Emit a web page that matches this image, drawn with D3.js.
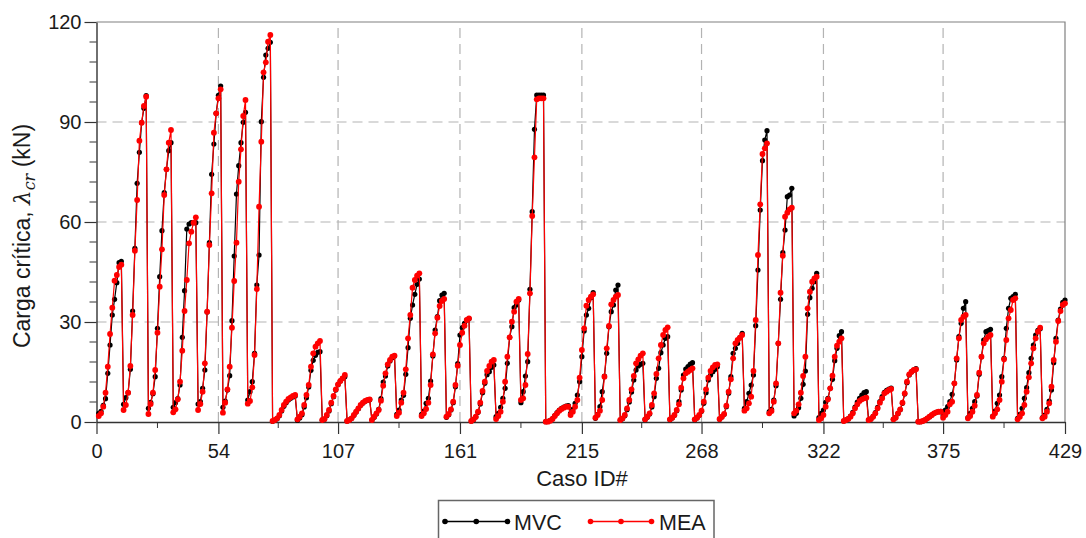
<!DOCTYPE html>
<html>
<head>
<meta charset="utf-8">
<script src="https://cdn.jsdelivr.net/npm/d3@7"></script>
<style>
  html, body { margin: 0; padding: 0; background: #fff; }
  svg { display: block; font-family: "Liberation Sans", Arial, sans-serif; }
</style>
</head>
<body>
<svg id="chart" width="1086" height="538"></svg>
<script>
// Critical load per case (kN), 39 blocks of 11 cases each
const mvc = [
  2.6, 3.2, 5.0, 7.0, 14.6, 23.1, 32.1, 36.8, 41.8, 47.8, 48.2,
  5.3, 7.3, 8.8, 15.8, 33.3, 52.1, 71.6, 80.9, 89.8, 94.1, 97.9,
  4.1, 5.9, 8.5, 13.6, 28.1, 43.6, 57.4, 68.8, 75.8, 81.4, 83.8,
  4.4, 5.8, 7.0, 11.1, 25.4, 39.4, 57.9, 59.4, 59.8, 59.8, 59.8,
  5.4, 6.1, 10.1, 15.6, 33.0, 53.8, 74.3, 83.4, 92.6, 98.0, 100.8,
  4.4, 6.3, 9.6, 13.9, 30.4, 49.8, 68.4, 76.9, 83.8, 89.9, 92.9,
  6.6, 9.1, 12.1, 20.6, 41.1, 50.1, 90.1, 103.4, 110.1, 112.1, 113.9,
  0.2, 0.5, 1.0, 1.9, 3.3, 4.7, 5.8, 6.6, 7.1, 7.5, 7.8,
  0.5, 1.2, 2.2, 4.5, 7.3, 10.5, 15.5, 18.5, 20.0, 20.9, 21.1,
  0.5, 0.8, 1.9, 3.3, 5.5, 7.6, 9.6, 11.2, 12.3, 13.1, 13.6,
  0.3, 0.6, 1.1, 2.0, 3.0, 4.0, 5.0, 5.7, 6.2, 6.5, 6.7,
  0.6, 1.4, 2.4, 3.8, 7.0, 12.0, 13.8, 16.8, 18.3, 19.3, 19.8,
  2.3, 3.6, 6.6, 8.0, 14.3, 22.3, 31.1, 35.1, 38.3, 41.3, 42.9,
  2.3, 3.3, 5.6, 7.1, 12.3, 19.8, 27.6, 31.6, 36.4, 38.1, 38.6,
  1.4, 2.2, 3.6, 5.8, 10.6, 17.5, 26.1, 28.3, 29.6, 30.6, 31.0,
  0.3, 0.7, 1.5, 2.9, 5.4, 8.8, 11.6, 14.2, 15.1, 16.4, 17.1,
  1.6, 2.6, 4.4, 7.1, 10.1, 17.6, 25.4, 28.6, 34.3, 35.1, 36.6,
  5.8, 9.1, 13.8, 18.1, 39.8, 63.1, 87.8, 98.1, 98.1, 98.1, 98.1,
  0.1, 0.2, 0.5, 1.0, 1.9, 2.8, 3.6, 4.1, 4.5, 4.8, 4.9,
  2.6, 3.8, 5.6, 8.1, 12.1, 19.6, 27.3, 32.1, 34.1, 37.3, 38.8,
  1.1, 2.3, 4.6, 9.1, 13.8, 20.6, 28.6, 33.1, 35.1, 39.6, 41.1,
  0.5, 1.0, 1.9, 3.7, 6.0, 9.0, 12.6, 15.6, 16.8, 17.3, 17.6,
  0.7, 1.4, 2.4, 4.5, 7.6, 13.1, 16.1, 20.8, 23.1, 25.1, 25.6,
  0.7, 1.2, 2.0, 3.4, 6.1, 9.6, 14.1, 15.9, 16.6, 17.4, 17.8,
  0.7, 1.2, 2.0, 3.2, 5.6, 8.8, 12.6, 14.1, 15.1, 15.8, 16.6,
  0.8, 1.5, 2.3, 4.6, 8.6, 13.6, 20.6, 22.1, 23.6, 25.3, 26.6,
  4.1, 6.1, 8.6, 11.1, 14.1, 28.9, 45.6, 63.6, 78.4, 84.6, 87.4,
  3.1, 3.8, 6.6, 10.9, 23.6, 36.8, 50.8, 57.6, 67.6, 68.1, 70.1,
  1.8, 2.6, 4.3, 7.1, 11.3, 15.3, 32.3, 37.3, 40.1, 42.1, 44.6,
  1.3, 2.6, 3.6, 5.9, 7.1, 10.1, 12.8, 18.4, 22.1, 25.9, 27.1,
  0.3, 0.6, 1.0, 1.8, 2.9, 4.5, 6.0, 7.1, 8.1, 8.8, 9.1,
  0.6, 0.9, 1.7, 2.8, 4.4, 6.1, 7.6, 8.9, 9.5, 9.9, 10.2,
  0.8, 1.3, 2.5, 3.7, 5.6, 8.4, 11.8, 14.1, 15.0, 15.6, 16.0,
  0.1, 0.1, 0.3, 0.6, 1.1, 1.6, 2.1, 2.6, 2.9, 3.1, 3.2,
  2.1, 3.6, 4.6, 6.1, 8.3, 11.6, 18.6, 25.6, 29.6, 34.1, 36.1,
  1.3, 2.6, 4.1, 6.1, 7.8, 14.3, 19.6, 24.6, 27.1, 27.4, 27.8,
  1.8, 3.3, 5.6, 8.1, 13.6, 19.1, 28.1, 34.1, 37.1, 37.6, 38.3,
  1.1, 2.3, 4.1, 7.1, 10.3, 14.8, 19.1, 23.1, 26.1, 27.5, 28.0,
  1.3, 2.1, 3.8, 6.3, 9.6, 17.8, 25.1, 30.6, 33.9, 35.9, 36.6
];

const mea = [
  1.8, 2.6, 4.6, 8.8, 16.6, 26.4, 34.3, 42.4, 44.1, 46.5, 47.2,
  3.6, 5.1, 8.8, 16.8, 32.1, 51.4, 66.6, 84.4, 89.8, 94.8, 97.6,
  2.4, 5.4, 8.8, 15.6, 26.8, 40.6, 51.8, 68.1, 75.8, 83.8, 87.6,
  2.9, 3.8, 6.8, 12.1, 21.4, 33.3, 42.6, 53.6, 57.1, 59.8, 61.4,
  3.6, 5.4, 9.1, 17.6, 33.1, 53.1, 68.6, 86.8, 92.6, 97.1, 99.8,
  2.8, 5.8, 9.8, 16.6, 28.3, 42.3, 53.8, 72.1, 81.8, 91.8, 96.6,
  5.5, 6.3, 10.4, 20.1, 39.9, 64.6, 84.1, 104.9, 107.9, 114.1, 116.1,
  0.3, 0.6, 1.1, 2.1, 3.6, 5.1, 6.1, 6.9, 7.4, 7.8, 8.1,
  0.8, 1.6, 2.6, 5.1, 8.1, 11.1, 16.6, 20.6, 22.6, 23.6, 24.3,
  0.6, 0.9, 2.1, 3.6, 5.8, 7.8, 9.8, 11.3, 12.3, 13.1, 14.1,
  0.3, 0.6, 1.1, 2.1, 3.1, 4.1, 5.1, 5.8, 6.3, 6.6, 6.8,
  0.6, 1.6, 2.6, 3.6, 6.4, 10.9, 14.6, 17.3, 18.6, 19.6, 19.9,
  1.8, 2.8, 5.8, 8.8, 15.8, 25.1, 32.1, 40.3, 42.6, 43.9, 44.6,
  1.8, 2.6, 3.9, 5.8, 11.1, 20.3, 26.6, 31.3, 34.8, 36.3, 36.9,
  1.6, 2.4, 3.8, 6.1, 11.1, 16.9, 23.1, 26.8, 28.9, 30.6, 31.1,
  0.3, 0.8, 1.6, 3.1, 5.8, 9.3, 12.1, 15.3, 16.8, 18.1, 18.6,
  0.9, 1.8, 3.1, 6.1, 12.1, 19.6, 25.4, 30.1, 33.1, 36.1, 36.9,
  6.6, 7.1, 11.1, 20.4, 38.6, 61.8, 79.4, 96.8, 97.1, 97.1, 97.1,
  0.1, 0.1, 0.4, 0.9, 1.8, 2.6, 3.4, 3.9, 4.3, 4.6, 4.6,
  2.1, 3.1, 4.6, 6.6, 13.3, 21.6, 28.1, 34.9, 36.6, 37.6, 38.3,
  1.3, 2.1, 3.4, 6.6, 13.6, 22.1, 28.8, 35.3, 36.6, 37.6, 38.1,
  0.6, 1.1, 2.1, 4.1, 6.6, 9.8, 13.8, 17.6, 18.8, 19.9, 20.6,
  0.8, 1.6, 2.6, 5.1, 8.6, 14.4, 19.1, 23.1, 26.1, 27.6, 28.4,
  0.8, 1.3, 2.1, 3.6, 5.3, 10.3, 13.1, 14.6, 15.1, 15.6, 16.1,
  0.8, 1.3, 2.1, 3.4, 6.1, 9.8, 13.3, 15.3, 16.4, 17.1, 17.3,
  0.9, 1.6, 2.4, 4.9, 9.1, 12.8, 19.1, 23.6, 24.6, 25.3, 26.1,
  3.4, 4.1, 5.6, 7.6, 15.3, 30.6, 50.1, 65.3, 80.4, 82.1, 83.6,
  2.6, 3.3, 6.1, 11.6, 23.6, 38.8, 49.9, 61.6, 62.8, 63.8, 64.3,
  2.6, 3.4, 5.3, 8.8, 13.8, 19.6, 34.1, 39.1, 42.1, 43.1, 43.6,
  0.6, 1.1, 2.1, 4.6, 6.8, 10.1, 13.9, 19.6, 22.9, 24.1, 25.1,
  0.3, 0.6, 0.9, 1.6, 2.6, 4.1, 5.3, 6.3, 6.8, 7.1, 7.3,
  0.6, 0.9, 1.6, 2.6, 4.1, 5.8, 7.1, 8.6, 9.1, 9.6, 9.9,
  0.8, 1.3, 2.6, 3.8, 5.8, 8.6, 12.1, 14.3, 15.1, 15.6, 15.8,
  0.1, 0.1, 0.3, 0.6, 1.1, 1.6, 2.1, 2.6, 2.9, 3.1, 3.1,
  1.3, 2.1, 3.1, 5.3, 6.1, 11.6, 19.1, 25.1, 30.6, 31.6, 32.1,
  1.1, 1.8, 3.1, 4.9, 8.1, 14.8, 19.6, 23.6, 24.8, 25.6, 26.1,
  1.6, 2.6, 3.8, 6.6, 12.1, 18.8, 24.6, 31.1, 33.6, 36.6, 37.1,
  0.8, 1.6, 2.6, 5.1, 9.1, 13.4, 17.6, 22.1, 25.1, 27.1, 28.3,
  1.1, 1.6, 3.1, 5.6, 10.6, 18.6, 24.1, 30.3, 33.3, 35.1, 35.6
];

// Case IDs run 1..429
const caseIds = d3.range(1, mvc.length + 1);

const xTicks = [0, 54, 107, 161, 215, 268, 322, 375, 429];
const yTicks = [0, 30, 60, 90, 120];

const svg = d3.select("#chart");
const L = 96.5, R = 1065, T = 22, B = 422;

const x = d3.scaleLinear().domain([0, 429]).range([L, R]);
const y = d3.scaleLinear().domain([0, 120]).range([B, T]);

// dashed grid
const grid = svg.append("g").attr("stroke", "#b3b3b3").attr("stroke-width", 1.2)
  .attr("stroke-dasharray", "10,6").attr("fill", "none");
xTicks.slice(1, -1).forEach(t => {
  grid.append("line").attr("x1", x(t)).attr("x2", x(t)).attr("y1", B).attr("y2", T);
});
yTicks.slice(1, -1).forEach(t => {
  grid.append("line").attr("x1", L).attr("x2", R).attr("y1", y(t)).attr("y2", y(t));
});

// frame: top and right
svg.append("path")
  .attr("d", `M${L},${T}H${R}V${B}`)
  .attr("fill", "none").attr("stroke", "#808080").attr("stroke-width", 1.2);

// minor ticks
const xMinor = xTicks.slice(0, -1).map((t, i) => (t + xTicks[i + 1]) / 2);
const yMinor = d3.range(0, 121, 6).filter(v => v % 30 !== 0);

const xAxis = svg.append("g").attr("transform", `translate(0,${B})`)
  .call(d3.axisBottom(x).tickValues(xTicks).tickSize(12).tickSizeOuter(0).tickPadding(10));
xAxis.append("g").selectAll("line").data(xMinor).join("line")
  .attr("x1", d => x(d)).attr("x2", d => x(d)).attr("y1", 0).attr("y2", 6)
  .attr("stroke", "#333");

const yAxis = svg.append("g").attr("transform", `translate(${L},0)`)
  .call(d3.axisLeft(y).tickValues(yTicks).tickSize(12).tickSizeOuter(0).tickPadding(3));
yAxis.append("g").selectAll("line").data(yMinor).join("line")
  .attr("x1", 0).attr("x2", -7).attr("y1", d => y(d)).attr("y2", d => y(d))
  .attr("stroke", "#333");

[xAxis, yAxis].forEach(g => {
  g.selectAll(".domain").attr("stroke", "#333").attr("stroke-width", 1.4);
  g.selectAll(".tick line").attr("stroke", "#333").attr("stroke-width", 1.2);
  g.selectAll("text").attr("font-size", 20).attr("fill", "#1a1a1a")
    .attr("font-family", "'Liberation Sans', Arial, sans-serif");
});

// series
const series = [
  { name: "MVC", values: mvc, color: "#000000", r: 2.6 },
  { name: "MEA", values: mea, color: "#ff0000", r: 2.9 }
];

const line = d3.line().x((d, i) => x(caseIds[i])).y(d => y(d));

series.forEach(s => {
  const g = svg.append("g");
  g.append("path").attr("d", line(s.values)).attr("fill", "none")
    .attr("stroke", s.color).attr("stroke-width", 1.2);
  g.selectAll("circle").data(s.values).join("circle")
    .attr("cx", (d, i) => x(caseIds[i])).attr("cy", d => y(d))
    .attr("r", s.r).attr("fill", s.color);
});

// axis titles
svg.append("text").attr("x", 582).attr("y", 486)
  .attr("text-anchor", "middle").attr("font-size", 22).attr("fill", "#1a1a1a")
  .text("Caso ID#");

const yt = svg.append("text")
  .attr("transform", "translate(30,236) rotate(-90)")
  .attr("text-anchor", "middle").attr("font-size", 23).attr("fill", "#1a1a1a");
yt.append("tspan").text("Carga crítica, ");
yt.append("tspan").attr("font-style", "italic").attr("font-family", "'DejaVu Serif', serif").text("λ");
yt.append("tspan").attr("font-style", "italic").attr("font-family", "'DejaVu Serif', serif")
  .attr("font-size", 16).attr("dy", 5).text("cr");
yt.append("tspan").attr("dy", -5).text(" (kN)");

// legend
const lg = svg.append("g");
lg.append("rect").attr("x", 438.5).attr("y", 500.5).attr("width", 275.5).attr("height", 60)
  .attr("fill", "#fff").attr("stroke", "#666").attr("stroke-width", 1.5);
const items = [
  { s: series[0], x0: 445, x1: 507.5, tx: 514 },
  { s: series[1], x0: 590.5, x1: 651.5, tx: 659 }
];
items.forEach(it => {
  const ly = 521.5;
  lg.append("line").attr("x1", it.x0).attr("x2", it.x1).attr("y1", ly).attr("y2", ly)
    .attr("stroke", it.s.color).attr("stroke-width", 1.4);
  [it.x0, (it.x0 + it.x1) / 2, it.x1].forEach(cx => {
    lg.append("circle").attr("cx", cx).attr("cy", ly).attr("r", 2.8).attr("fill", it.s.color);
  });
  lg.append("text").attr("x", it.tx).attr("y", ly + 8).attr("font-size", 21.5)
    .attr("fill", "#1a1a1a").text(it.s.name);
});
</script>
</body>
</html>
